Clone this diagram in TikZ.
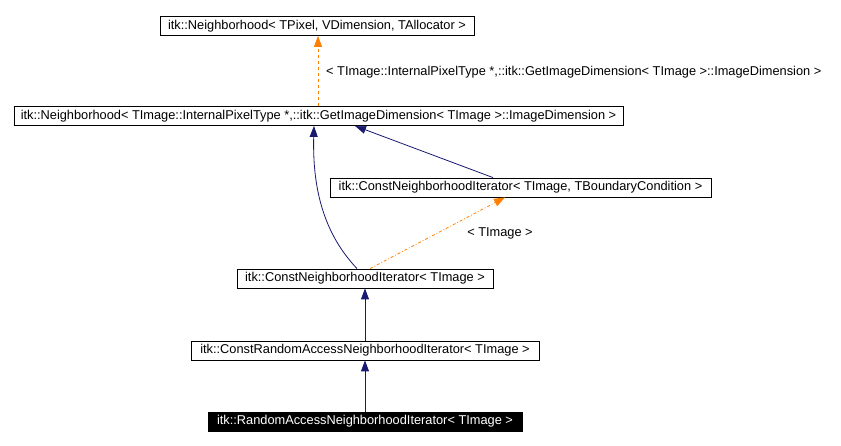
\documentclass[tikz,border=0pt]{standalone}
\usepackage{fontspec}
\setmainfont{Liberation Sans}
\usetikzlibrary{arrows.meta}
\begin{document}
\begin{tikzpicture}[x=1pt,y=-1pt,
  cls/.style={draw=black,fill=white,inner sep=0pt,minimum height=19pt,font=\fontsize{12.8}{14}\selectfont,line width=0.8pt},
  inh/.style={draw={rgb,255:red,25;green,25;blue,112},line width=0.8pt,-{Triangle[length=11pt,width=8pt,fill={rgb,255:red,25;green,25;blue,112}]}},
  tmpl/.style={draw=orange,line width=0.8pt,-{Triangle[length=11pt,width=8pt,fill=orange]}},
  lbl/.style={font=\fontsize{12.8}{14}\selectfont,inner sep=0pt}]
\useasboundingbox (0,0) rectangle (841,446);
\node[cls,minimum width=314pt] (n1) at (317,26) {itk::Neighborhood< TPixel, VDimension, TAllocator >};
\node[cls,minimum width=609pt] (n2) at (318.5,116) {itk::Neighborhood< TImage::InternalPixelType *,::itk::GetImageDimension< TImage >::ImageDimension >};
\node[cls,minimum width=381pt] (n3) at (520.5,187.5) {itk::ConstNeighborhoodIterator< TImage, TBoundaryCondition >};
\node[cls,minimum width=256pt] (n4) at (365,278.5) {itk::ConstNeighborhoodIterator< TImage >};
\node[cls,minimum width=348pt] (n5) at (365,350.5) {itk::ConstRandomAccessNeighborhoodIterator< TImage >};
\node[cls,minimum width=314pt,fill=black,text=white] (n6) at (365,421.5) {itk::RandomAccessNeighborhoodIterator< TImage >};
\draw[tmpl,dashed] (n2.north -| 318,0) -- (n1.south -| 318,0);
\node[lbl,anchor=west] (l1) at (326,72) {< TImage::InternalPixelType *,::itk::GetImageDimension< TImage >::ImageDimension >};
\draw[inh] (n3.north -| 493,0) -- (n2.south -| 355,0);
\draw[inh] (n4.north -| 357,0) .. controls (330,240) and (312,200) .. (n2.south -| 314,0);
\draw[tmpl,dash dot] (n4.north -| 370,0) -- (n3.south -| 505,0);
\node[lbl] (l2) at (500,233) {< TImage >};
\draw[inh] (n5) -- (n4);
\draw[inh] (n6) -- (n5);
\end{tikzpicture}
\end{document}
